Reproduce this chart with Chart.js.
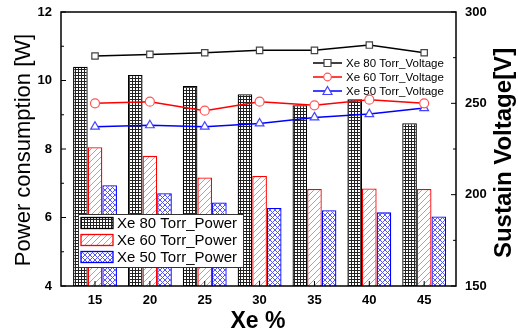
<!DOCTYPE html>
<html>
<head>
<meta charset="utf-8">
<script src="https://cdn.jsdelivr.net/npm/chart.js@4"></script>
<style>
  html, body { margin: 0; padding: 0; background: #fff; }
  canvas { display: block; }
</style>
</head>
<body>
<canvas id="chart" width="518" height="335"></canvas>
<script>
// values
const categories = [15, 20, 25, 30, 35, 40, 45];
const power80 = [10.40, 10.16, 9.84, 9.60, 9.28, 9.45, 8.75];
const power60 = [8.05, 7.80, 7.17, 7.21, 6.83, 6.85, 6.83];
const power50 = [6.94, 6.71, 6.44, 6.28, 6.21, 6.15, 6.03];
const volt80 = [275.9, 276.8, 277.7, 279.0, 279.0, 281.9, 277.7];
const volt60 = [250.0, 250.9, 246.0, 250.9, 248.9, 252.0, 250.0];
const volt50 = [237.2, 238.0, 237.2, 239.0, 242.3, 244.1, 247.4];
const powerTicks = [4, 6, 8, 10, 12];
const powerMinor = [5, 7, 9, 11];
const voltTicks = [150, 200, 250, 300];
const voltMinor = [175, 225, 275];

const FONT = 'Arial, "Liberation Sans", sans-serif';

function makePattern(size, draw) {
    const c = document.createElement('canvas');
    c.width = size; c.height = size;
    const g = c.getContext('2d');
    g.fillStyle = '#fff';
    g.fillRect(0, 0, size, size);
    draw(g, size);
    return g.createPattern(c, 'repeat');
}

const gridPat = makePattern(3, (g) => {
    g.fillStyle = '#222';
    g.fillRect(0, 0, 3, 1);
    g.fillRect(0, 0, 1, 3);
});
const slashPat = makePattern(6, (g, s) => {
    g.strokeStyle = '#ff8080';
    g.lineWidth = 1;
    g.beginPath();
    g.moveTo(0, s); g.lineTo(s, 0);
    g.moveTo(-1, 1); g.lineTo(1, -1);
    g.moveTo(s - 1, s + 1); g.lineTo(s + 1, s - 1);
    g.stroke();
});
const crossPat = makePattern(5, (g, s) => {
    g.strokeStyle = '#5555ff';
    g.lineWidth = 1;
    g.beginPath();
    g.moveTo(0, 0); g.lineTo(s, s);
    g.moveTo(0, s); g.lineTo(s, 0);
    g.stroke();
});

const toXY = (arr) => arr.map((v, i) => ({x: categories[i], y: v}));

const barSets = [
    {label: 'Xe 80 Torr_Power', data: power80, fill: gridPat, border: '#000'},
    {label: 'Xe 60 Torr_Power', data: power60, fill: slashPat, border: '#ff0000'},
    {label: 'Xe 50 Torr_Power', data: power50, fill: crossPat, border: '#0000ff'}
];
const lineSets = [
    {label: 'Xe 80 Torr_Voltage', data: volt80, color: '#000', mark: '#444', style: 'rect', r: 4.5},
    {label: 'Xe 60 Torr_Voltage', data: volt60, color: '#ff0000', mark: '#ff5555', style: 'circle', r: 4.5},
    {label: 'Xe 50 Torr_Voltage', data: volt50, color: '#0000ff', mark: '#4444ff', style: 'triangle', r: 5}
];

const datasets = [];
lineSets.forEach(s => datasets.push({
    type: 'line', label: s.label, data: toXY(s.data), yAxisID: 'y2', order: 0,
    borderColor: s.color, borderWidth: 1.5, pointStyle: s.style, pointRadius: s.r,
    pointBorderColor: s.mark, pointBackgroundColor: '#fff', pointBorderWidth: 1.2
}));
barSets.forEach(s => datasets.push({
    type: 'bar', label: s.label, data: toXY(s.data), yAxisID: 'y', order: 1,
    backgroundColor: s.fill, borderColor: s.border, borderWidth: 1.3,
    categoryPercentage: 0.8, barPercentage: 1.0
}));

const decor = {
    id: 'decor',
    afterDraw(chart) {
        const ctx = chart.ctx;
        const a = chart.chartArea;
        const sx = chart.scales.x, sy = chart.scales.y, sy2 = chart.scales.y2;
        ctx.save();
        // frame
        ctx.strokeStyle = '#000';
        ctx.lineWidth = 1.5;
        ctx.strokeRect(a.left, a.top, a.right - a.left, a.bottom - a.top);
        // inward tick marks
        ctx.lineWidth = 1;
        ctx.beginPath();
        powerTicks.forEach(v => { const y = sy.getPixelForValue(v); ctx.moveTo(a.left, y); ctx.lineTo(a.left + 5, y); });
        powerMinor.forEach(v => { const y = sy.getPixelForValue(v); ctx.moveTo(a.left, y); ctx.lineTo(a.left + 3, y); });
        voltTicks.forEach(v => { const y = sy2.getPixelForValue(v); ctx.moveTo(a.right, y); ctx.lineTo(a.right - 5, y); });
        voltMinor.forEach(v => { const y = sy2.getPixelForValue(v); ctx.moveTo(a.right, y); ctx.lineTo(a.right - 3, y); });
        categories.forEach(v => { const x = sx.getPixelForValue(v); ctx.moveTo(x, a.bottom); ctx.lineTo(x, a.bottom - 5); });
        ctx.stroke();

        // bar legend (lower left)
        const bx = 78, by = 214, bw = 165, bh = 53;
        ctx.fillStyle = '#fff';
        ctx.fillRect(bx, by, bw, bh);
        ctx.strokeStyle = '#333';
        ctx.lineWidth = 1;
        ctx.strokeRect(bx + 0.5, by + 0.5, bw, bh);
        ctx.font = '15px ' + FONT;
        ctx.textBaseline = 'middle';
        ctx.textAlign = 'left';
        barSets.forEach((s, i) => {
            const cy = 223 + i * 17;
            ctx.fillStyle = s.fill;
            ctx.fillRect(81, cy - 5.5, 32, 11);
            ctx.strokeStyle = s.border;
            ctx.lineWidth = 1.3;
            ctx.strokeRect(81, cy - 5.5, 32, 11);
            ctx.fillStyle = '#000';
            ctx.fillText(s.label, 117, cy + 1);
        });

        // line legend (upper right)
        ctx.font = '11.5px ' + FONT;
        lineSets.forEach((s, i) => {
            const cy = 63 + i * 14;
            ctx.strokeStyle = s.color;
            ctx.lineWidth = 1.5;
            ctx.beginPath();
            ctx.moveTo(313, cy); ctx.lineTo(342, cy);
            ctx.stroke();
            ctx.fillStyle = '#fff';
            ctx.strokeStyle = s.mark;
            ctx.lineWidth = 1.2;
            ctx.beginPath();
            if (s.style === 'rect') { ctx.rect(324, cy - 3.5, 7, 7); }
            else if (s.style === 'circle') { ctx.arc(327.5, cy, 3.8, 0, Math.PI * 2); }
            else { ctx.moveTo(327.5, cy - 4.5); ctx.lineTo(332, cy + 3.5); ctx.lineTo(323, cy + 3.5); ctx.closePath(); }
            ctx.fill(); ctx.stroke();
            ctx.fillStyle = '#000';
            ctx.fillText(s.label, 346, cy + 1);
        });

        // axis titles
        ctx.fillStyle = '#000';
        ctx.textAlign = 'center';
        ctx.textBaseline = 'alphabetic';
        ctx.save();
        ctx.translate(30, 150);
        ctx.rotate(-Math.PI / 2);
        ctx.font = '22px ' + FONT;
        ctx.fillText('Power consumption [W]', 0, 0);
        ctx.restore();
        ctx.save();
        ctx.translate(511, 153);
        ctx.rotate(-Math.PI / 2);
        ctx.font = 'bold 24px ' + FONT;
        ctx.fillText('Sustain Voltage[V]', 0, 0);
        ctx.restore();
        ctx.font = 'bold 23px ' + FONT;
        ctx.fillText('Xe %', 258, 328);
        ctx.restore();
    }
};

const tickFont = {family: FONT, size: 13, weight: 'bold'};
const noPad = (s) => { s.paddingTop = 0; s.paddingBottom = 0; s.paddingLeft = 0; s.paddingRight = 0; };

new Chart(document.getElementById('chart'), {
    type: 'bar',
    data: {datasets: datasets},
    options: {
        responsive: false,
        animation: false,
        layout: {padding: {top: 12, left: 0, right: 0, bottom: 0}},
        plugins: {legend: {display: false}, tooltip: {enabled: false}},
        scales: {
            x: {
                type: 'linear', min: 11.9, max: 47.9, offset: false,
                grid: {display: false, drawTicks: false, offset: false},
                border: {display: false},
                afterBuildTicks: (s) => { s.ticks = categories.map(v => ({value: v})); },
                afterFit: (s) => { s.height = 49; noPad(s); },
                ticks: {font: tickFont, color: '#000', padding: 7, maxRotation: 0, autoSkip: false}
            },
            y: {
                position: 'left', min: 4, max: 12,
                grid: {display: false, drawTicks: false},
                border: {display: false},
                afterBuildTicks: (s) => { s.ticks = powerTicks.map(v => ({value: v})); },
                afterFit: (s) => { s.width = 61; noPad(s); },
                ticks: {font: tickFont, color: '#000', padding: 9}
            },
            y2: {
                position: 'right', min: 150, max: 300,
                grid: {display: false, drawTicks: false},
                border: {display: false},
                afterBuildTicks: (s) => { s.ticks = voltTicks.map(v => ({value: v})); },
                afterFit: (s) => { s.width = 62; noPad(s); },
                ticks: {font: tickFont, color: '#000', padding: 9}
            }
        }
    },
    plugins: [decor]
});
</script>
</body>
</html>
